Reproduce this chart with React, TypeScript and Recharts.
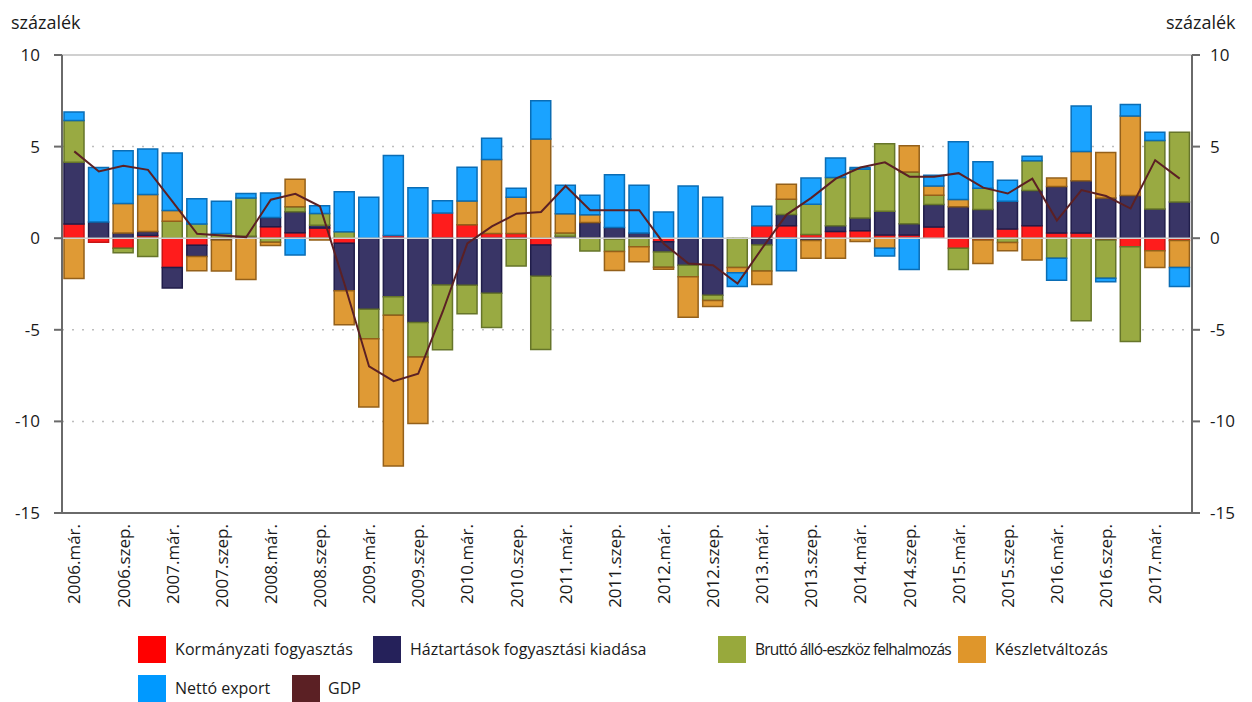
import React from "react";
import {
  ComposedChart,
  Bar,
  Line,
  XAxis,
  YAxis,
  CartesianGrid,
  ReferenceLine,
} from "recharts";

const years = [2006, 2007, 2008, 2009, 2010, 2011, 2012, 2013, 2014, 2015, 2016, 2017];
const quarterNames = ["már.", "jún.", "szep.", "dec."];
const quarterCount = 46;

const kormanyzati = [
  0.77, -0.22, -0.55, 0.15, -1.6, -0.39, 0, 0, 0.62, 0.3, 0.55, -0.27,
  0, 0.15, 0, 1.37, 0.74, 0.25, 0.25, -0.37, 0, 0, -0.05, 0,
  -0.2, 0, 0, 0, 0.68, 0.68, 0.2, 0.37, 0.4, 0.18, 0.18, 0.61,
  -0.55, -0.1, 0.5, 0.68, 0.28, 0.28, -0.1, -0.46, -0.68, -0.13,
];
const haztartasok = [
  3.37, 0.88, 0.28, 0.22, -1.12, -0.61, -0.1, 0.1, 0.51, 1.15, 0.16, -2.6,
  -3.88, -3.2, -4.6, -2.56, -2.57, -3.0, -0.05, -1.71, 0.1, 0.86, 0.59, 0.28,
  -0.55, -1.47, -3.12, 0, -0.37, 0.61, -0.13, 0.31, 0.7, 1.29, 0.61, 1.23,
  1.71, 1.56, 1.52, 1.93, 2.54, 2.85, 2.2, 2.33, 1.6, 1.97,
];
const brutto = [
  2.29, 0, -0.24, -1.0, 0.92, 0.77, 0.25, 2.1, -0.22, 0.27, 0.64, 0.35,
  -1.61, -1.0, -1.89, -3.53, -1.56, -1.87, -1.47, -3.99, 0.18, -0.7, -0.68, -0.46,
  -0.83, -0.64, -0.28, -1.6, -1.42, 0.83, 1.65, 2.63, 2.67, 3.68, 2.83, 0.5,
  -1.16, 1.16, -0.24, 1.62, -1.1, -4.5, -2.08, -5.18, 3.73, 3.82,
];
const keszlet = [
  -2.2, 0, 1.61, 2.02, 0.59, -0.77, -1.69, -2.26, -0.18, 1.5, -0.1, -1.85,
  -3.72, -8.24, -3.63, 0, 1.29, 4.04, 1.99, 5.42, 1.05, 0.42, -1.03, -0.83,
  -0.11, -2.2, -0.33, -0.28, -0.74, 0.83, -0.97, -1.1, -0.18, -0.55, 1.43, 0.51,
  0.4, -1.28, -0.44, -1.19, 0.46, 1.6, 2.48, 4.34, -0.92, -1.47,
];
const netto = [
  0.46, 2.98, 2.89, 2.48, 3.14, 1.38, 1.77, 0.24, 1.34, -0.92, 0.42, 2.18,
  2.23, 4.36, 2.75, 0.68, 1.84, 1.16, 0.48, 2.08, 1.56, 1.07, 2.87, 2.61,
  1.43, 2.85, 2.24, -0.75, 1.07, -1.78, 1.43, 1.07, 0.09, -0.42, -1.71, 0.59,
  3.16, 1.45, 1.14, 0.24, -1.19, 2.48, -0.2, 0.63, 0.46, -1.03,
];
const gdp = [
  4.74, 3.64, 3.95, 3.73, 2.0, 0.24, 0.15, 0.06, 2.1, 2.42, 1.74, -2.5,
  -7.0, -7.8, -7.4, -4.0, -0.28, 0.64, 1.34, 1.43, 2.85, 1.53, 1.53, 1.53,
  -0.3, -1.38, -1.47, -2.48, -0.55, 1.29, 2.2, 3.25, 3.86, 4.14, 3.36, 3.36,
  3.55, 2.76, 2.44, 3.25, 0.96, 2.63, 2.3, 1.62, 4.26, 3.25,
];
const yTicks = [-15, -10, -5, 0, 5, 10];

const labels: string[] = [];
years.forEach((y) => quarterNames.forEach((q) => labels.push(`${y}.${q}`)));

const data = labels.slice(0, quarterCount).map((label, i) => ({
  label,
  kormanyzati: kormanyzati[i],
  haztartasok: haztartasok[i],
  brutto: brutto[i],
  keszlet: keszlet[i],
  netto: netto[i],
  gdp: gdp[i],
}));

const FONT = "'Open Sans', 'Noto Sans', sans-serif";

const series = [
  { key: "kormanyzati", name: "Kormányzati fogyasztás", fill: "#ff1c1c", stroke: "#c81414", legend: "#ff0000" },
  { key: "haztartasok", name: "Háztartások fogyasztási kiadása", fill: "#393566", stroke: "#201d4a", legend: "#25215a" },
  { key: "brutto", name: "Bruttó álló-eszköz felhalmozás", fill: "#99aa42", stroke: "#66752a", legend: "#98a93c" },
  { key: "keszlet", name: "Készletváltozás", fill: "#df9a35", stroke: "#94601a", legend: "#df962b" },
  { key: "netto", name: "Nettó export", fill: "#1aa3ff", stroke: "#0a6db5", legend: "#0099ff" },
];

const XTick = (props: any) => {
  const { x, y, payload } = props;
  const ty = y + 1;
  return (
    <text
      x={x}
      y={ty}
      transform={`rotate(-90, ${x}, ${ty})`}
      textAnchor="end"
      dy="0.36em"
      fontSize={17}
      fontFamily={FONT}
      fill="#1a1a1a"
    >
      {payload.value}
    </text>
  );
};

const legendRow1 = [
  { i: 0, sx: 130, tx: 167, ls: 0.1, fs: 16 },
  { i: 1, sx: 365, tx: 402, ls: 0, fs: 16 },
  { i: 2, sx: 710, tx: 747, ls: -0.8, fs: 15.5 },
  { i: 3, sx: 950, tx: 987, ls: 0, fs: 16 },
];

export default function App() {
  return (
    <div style={{ position: "relative", width: 1236, height: 694, fontFamily: FONT }}>
      <div style={{ position: "absolute", left: 3, top: 2, fontSize: 18, color: "#1a1a1a" }}>százalék</div>
      <div style={{ position: "absolute", left: 1158, top: 2, fontSize: 18, color: "#1a1a1a" }}>százalék</div>
      <ComposedChart
        width={1236}
        height={620}
        data={data}
        stackOffset="sign"
        barSize={20}
        margin={{ top: 47, right: 2, left: 4, bottom: 0 }}
      >
        <CartesianGrid vertical={false} stroke="#bdbdbd" strokeDasharray="2 8" strokeWidth={1.5} />
        <ReferenceLine y={10} stroke="#d0d0d0" strokeWidth={2} />
        <ReferenceLine y={0} stroke="#d0d0d0" strokeWidth={1.5} />
        <XAxis
          dataKey="label"
          interval={1}
          tickLine={false}
          tickSize={8}
          height={115}
          axisLine={{ stroke: "#6a6a6a", strokeWidth: 2 }}
          tick={<XTick />}
        />
        <YAxis
          domain={[-15, 10]}
          ticks={yTicks}
          width={50}
          tickSize={8}
          tickMargin={14}
          axisLine={{ stroke: "#6a6a6a", strokeWidth: 2 }}
          tickLine={{ stroke: "#6a6a6a", strokeWidth: 2 }}
          tick={{ fontSize: 17, fill: "#1a1a1a", fontFamily: FONT }}
          allowDataOverflow
        />
        <YAxis
          yAxisId="right"
          orientation="right"
          domain={[-15, 10]}
          ticks={yTicks}
          width={50}
          tickSize={8}
          tickMargin={10}
          axisLine={{ stroke: "#6a6a6a", strokeWidth: 2 }}
          tickLine={{ stroke: "#6a6a6a", strokeWidth: 2 }}
          tick={{ fontSize: 17, fill: "#1a1a1a", fontFamily: FONT }}
          allowDataOverflow
        />
        {series.map((s) => (
          <Bar
            key={s.key}
            dataKey={s.key}
            name={s.name}
            stackId="a"
            fill={s.fill}
            stroke={s.stroke}
            strokeWidth={1.5}
            isAnimationActive={false}
          />
        ))}
        <Line
          type="linear"
          dataKey="gdp"
          name="GDP"
          stroke="#5b2024"
          strokeWidth={2}
          dot={false}
          activeDot={false}
          isAnimationActive={false}
        />
      </ComposedChart>
      {legendRow1.map(({ i, sx, tx, ls, fs }) => (
        <React.Fragment key={series[i].key}>
          <div style={{ position: "absolute", left: sx, top: 628, width: 28, height: 27, background: series[i].legend }} />
          <div style={{ position: "absolute", left: tx, top: 630, fontSize: fs, letterSpacing: ls, color: "#1a1a1a", whiteSpace: "nowrap" }}>
            {series[i].name}
          </div>
        </React.Fragment>
      ))}
      <div style={{ position: "absolute", left: 130, top: 667, width: 28, height: 27, background: series[4].legend }} />
      <div style={{ position: "absolute", left: 167, top: 669, fontSize: 16, color: "#1a1a1a", whiteSpace: "nowrap" }}>
        {series[4].name}
      </div>
      <div style={{ position: "absolute", left: 284, top: 667, width: 28, height: 27, background: "#5b2024" }} />
      <div style={{ position: "absolute", left: 320, top: 669, fontSize: 16, color: "#1a1a1a", whiteSpace: "nowrap" }}>
        GDP
      </div>
    </div>
  );
}
